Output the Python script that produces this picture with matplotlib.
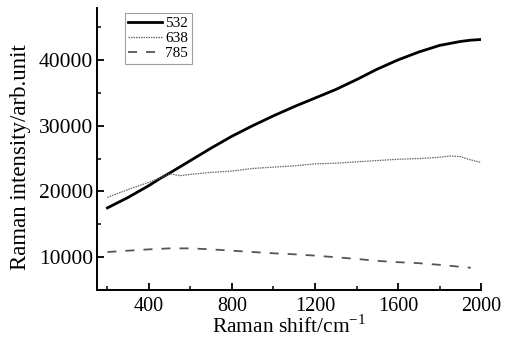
import matplotlib
matplotlib.use("Agg")
import matplotlib.pyplot as plt
from matplotlib.ticker import MultipleLocator

plt.rcParams['font.family'] = ['Liberation Serif', 'DejaVu Serif']
plt.rcParams['mathtext.fontset'] = 'custom'
plt.rcParams['mathtext.rm'] = 'Liberation Serif'

# Raman shift (cm^-1)
shift_532 = [200, 300, 400, 450, 500, 600, 700, 800, 900, 1000, 1100, 1200, 1300,
             1400, 1500, 1600, 1700, 1800, 1900, 1950, 2000]
int_532 = [17500, 19100, 20900, 21900, 22800, 24700, 26600, 28400, 30000, 31500,
           32900, 34200, 35500, 37000, 38600, 40000, 41200, 42200, 42800, 43000, 43100]

shift_638 = [200, 300, 400, 450, 500, 550, 600, 700, 800, 900, 1000, 1100, 1200,
             1300, 1400, 1500, 1600, 1700, 1800, 1850, 1900, 1950, 2000]
int_638 = [19100, 20300, 21400, 22000, 22700, 22400, 22600, 22900, 23100, 23500,
           23700, 23900, 24200, 24300, 24500, 24700, 24900, 25000, 25200, 25400,
           25300, 24800, 24400]

shift_785 = [200, 300, 400, 500, 600, 700, 800, 900, 1000, 1100, 1200, 1300,
             1400, 1500, 1600, 1700, 1800, 1900, 1950]
int_785 = [10800, 11000, 11200, 11350, 11350, 11200, 11000, 10800, 10600, 10450,
           10250, 10000, 9750, 9450, 9250, 9100, 8850, 8550, 8400]

labels = ['532', '638', '785']

fig = plt.figure(figsize=(5.08, 3.45), dpi=100)
ax = fig.add_axes([0.191, 0.159, 0.756, 0.818])

ax.plot(shift_532, int_532, color='black', lw=2.0, label=labels[0])
ax.plot(shift_638, int_638, color='#666666', lw=0.9, linestyle=(0, (1.2, 0.8)), label=labels[1])
ax.plot(shift_785, int_785, color='#555555', lw=1.3, linestyle=(0, (5, 5)), label=labels[2])

ax.set_xlim(150, 2000)
ax.set_ylim(5000, 47900)
ax.xaxis.set_major_locator(MultipleLocator(400))
ax.xaxis.set_minor_locator(MultipleLocator(200))
ax.yaxis.set_major_locator(MultipleLocator(10000))
ax.yaxis.set_minor_locator(MultipleLocator(5000))
ax.set_xticks([400, 800, 1200, 1600, 2000])

for s in ['top', 'right']:
    ax.spines[s].set_visible(False)
for s in ['left', 'bottom']:
    ax.spines[s].set_linewidth(1.4)

ax.tick_params(which='major', direction='in', length=5, width=1.3)
ax.tick_params(axis='x', which='major', labelsize=14.5, pad=5)
ax.tick_params(axis='y', which='major', labelsize=15.5, pad=3)
ax.tick_params(which='minor', direction='in', length=3, width=1.1)

ax.set_xlabel(r'Raman shift/cm$^{\mathregular{-1}}$', fontsize=15.5, labelpad=-1)
ax.set_ylabel('Raman intensity/arb.unit', fontsize=16.5)
ax.yaxis.set_label_coords(-0.172, 0.47)

leg = ax.legend(loc='upper left', bbox_to_anchor=(0.06, 1.0), fontsize=11,
                frameon=True, fancybox=False, handlelength=2.2, handletextpad=0.2,
                borderpad=0.25, labelspacing=0.1, borderaxespad=0.3)
leg.get_frame().set_edgecolor('#888888')
leg.get_frame().set_linewidth(0.8)

fig.savefig('out.png', dpi=100)
